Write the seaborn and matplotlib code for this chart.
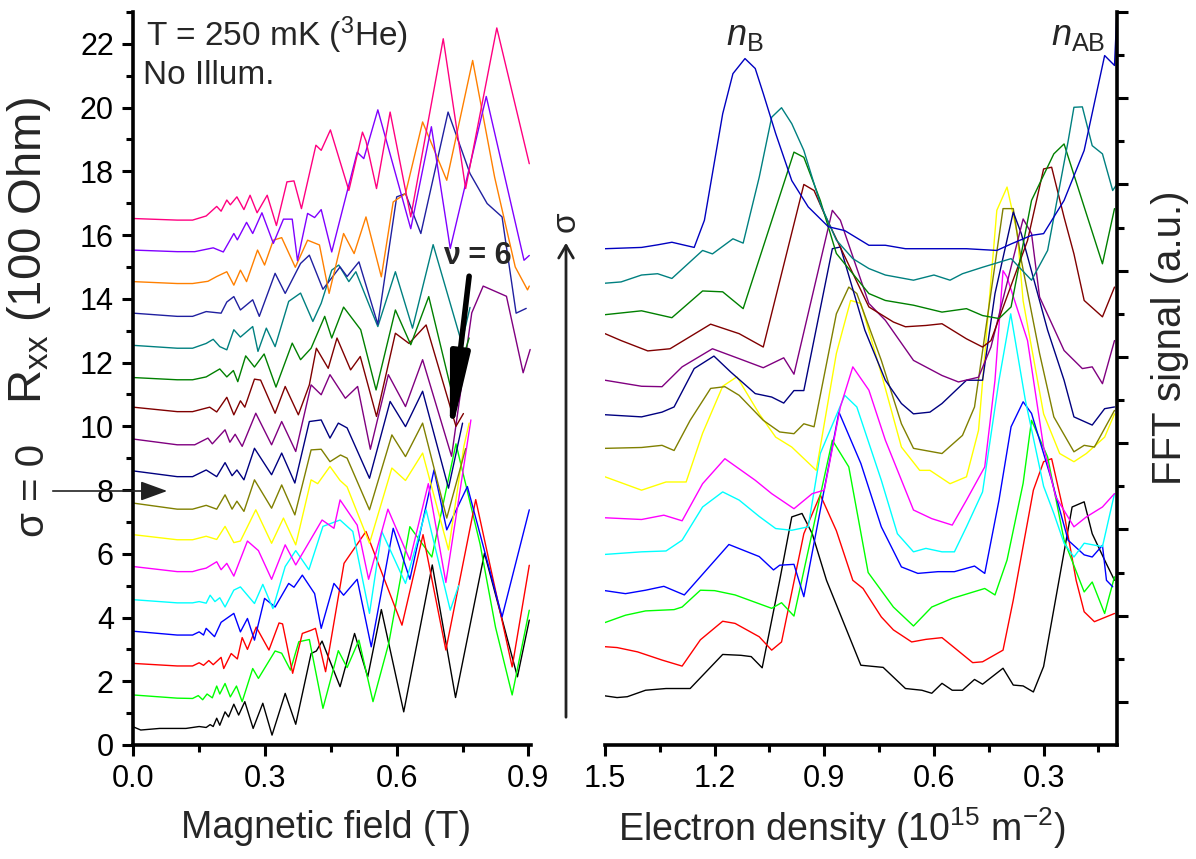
import matplotlib
matplotlib.use("Agg")
import matplotlib.pyplot as plt
import pandas as pd
import seaborn as sns
from matplotlib.ticker import MultipleLocator, FixedLocator, FormatStrFormatter, NullFormatter

# ---------------- data: left panel, Rxx (100 Ohm) vs B (T) ----------------
L_black = [(0.0,0.57),(0.017,0.47),(0.06,0.52),(0.12,0.52),(0.15,0.58),(0.166,0.55),(0.175,0.64),(0.182,0.58),(0.19,0.84),(0.197,0.62),(0.209,1.04),(0.217,0.88),(0.229,1.28),(0.24,0.94),(0.254,1.36),(0.273,0.52),(0.295,1.31),(0.316,0.31),(0.346,1.62),(0.37,0.65),(0.405,2.87),(0.417,2.95),(0.43,3.26),(0.471,1.83),(0.504,3.5),(0.534,2.14),(0.565,4.25),(0.616,1.04),(0.681,5.65),(0.734,1.49),(0.8,6.02),(0.875,2.14),(0.902,3.92)]
L_lime = [(0.0,1.57),(0.1,1.47),(0.135,1.46),(0.148,1.55),(0.158,1.42),(0.168,1.6),(0.18,1.48),(0.19,1.85),(0.197,1.6),(0.209,1.93),(0.221,1.51),(0.235,1.85),(0.248,1.36),(0.272,2.4),(0.285,2.09),(0.323,2.95),(0.338,2.88),(0.358,2.35),(0.377,3.24),(0.401,3.31),(0.432,1.15),(0.467,2.96),(0.487,2.43),(0.514,3.29),(0.546,1.36),(0.582,3.2),(0.63,6.85),(0.68,5.9),(0.735,9.45),(0.79,6.3),(0.825,3.7),(0.863,1.57),(0.902,4.23)]
L_red = [(0.0,2.56),(0.1,2.48),(0.135,2.48),(0.15,2.58),(0.16,2.5),(0.172,2.65),(0.182,2.52),(0.2,2.75),(0.206,2.4),(0.223,2.87),(0.237,2.7),(0.248,3.37),(0.26,3.0),(0.28,3.7),(0.309,2.98),(0.332,3.83),(0.34,3.8),(0.363,2.25),(0.385,3.5),(0.405,3.6),(0.415,3.66),(0.438,2.3),(0.48,5.7),(0.505,6.2),(0.53,6.7),(0.612,3.76),(0.66,6.6),(0.712,2.98),(0.78,7.7),(0.863,2.45),(0.902,5.64)]
L_blue = [(0.0,3.57),(0.1,3.45),(0.135,3.45),(0.15,3.55),(0.16,3.45),(0.166,3.66),(0.185,3.4),(0.2,3.85),(0.229,4.13),(0.244,3.55),(0.26,3.97),(0.276,3.29),(0.299,4.6),(0.323,4.33),(0.354,5.07),(0.366,4.95),(0.385,5.33),(0.413,4.75),(0.428,3.66),(0.457,5.07),(0.479,4.7),(0.51,5.2),(0.542,3.08),(0.592,6.8),(0.63,5.2),(0.685,8.63),(0.714,6.75),(0.761,8.11),(0.84,4.02),(0.902,7.38)]
L_cyan = [(0.0,4.56),(0.1,4.46),(0.135,4.46),(0.15,4.5),(0.166,4.45),(0.175,4.7),(0.186,4.5),(0.197,4.62),(0.209,4.33),(0.229,4.86),(0.244,4.96),(0.276,4.44),(0.295,5.04),(0.318,4.28),(0.346,5.6),(0.37,6.1),(0.4,5.5),(0.432,6.86),(0.471,7.06),(0.5,6.7),(0.538,4.13),(0.566,6.7),(0.62,5.07),(0.667,7.38),(0.722,4.23),(0.741,5.0)]
L_magenta = [(0.0,5.6),(0.1,5.44),(0.135,5.44),(0.15,5.5),(0.166,5.55),(0.19,5.75),(0.2,5.5),(0.213,5.7),(0.229,5.3),(0.26,6.4),(0.285,6.1),(0.315,5.2),(0.346,6.28),(0.37,5.65),(0.43,7.06),(0.457,6.8),(0.471,7.69),(0.51,6.9),(0.536,5.2),(0.58,7.4),(0.63,5.8),(0.672,8.2),(0.712,5.1),(0.769,10.2)]
L_yellow = [(0.0,6.6),(0.1,6.44),(0.135,6.44),(0.166,6.55),(0.19,6.45),(0.209,6.86),(0.229,6.35),(0.244,6.4),(0.279,7.38),(0.315,6.33),(0.342,7.12),(0.37,6.28),(0.405,8.32),(0.42,8.2),(0.448,8.74),(0.471,8.3),(0.487,8.1),(0.538,6.33),(0.589,8.69),(0.62,8.3),(0.659,9.16),(0.718,6.12),(0.753,9.37),(0.765,10.1)]
L_olive = [(0.0,7.59),(0.1,7.4),(0.135,7.4),(0.166,7.52),(0.19,7.4),(0.209,7.85),(0.225,7.4),(0.236,7.65),(0.252,7.33),(0.276,8.32),(0.315,7.43),(0.338,8.16),(0.368,7.22),(0.405,9.26),(0.428,9.28),(0.448,8.89),(0.472,9.1),(0.487,9.0),(0.538,7.38),(0.589,9.73),(0.62,9.05),(0.659,10.1),(0.714,7.12),(0.757,9.3)]
L_navy = [(0.0,8.6),(0.1,8.42),(0.135,8.42),(0.166,8.63),(0.19,8.42),(0.209,8.86),(0.225,8.45),(0.236,8.63),(0.252,8.32),(0.276,9.31),(0.315,8.48),(0.338,9.16),(0.368,8.22),(0.401,10.15),(0.428,10.2),(0.448,9.63),(0.467,10.1),(0.487,9.95),(0.538,8.37),(0.585,10.78),(0.62,9.99),(0.659,11.1),(0.718,8.06),(0.75,10.1)]
L_purple = [(0.0,9.6),(0.1,9.42),(0.14,9.42),(0.17,9.63),(0.18,9.45),(0.209,9.89),(0.22,9.5),(0.232,9.75),(0.248,9.37),(0.279,10.41),(0.315,9.42),(0.338,10.15),(0.37,9.21),(0.405,11.3),(0.428,10.99),(0.448,11.62),(0.483,10.88),(0.511,11.25),(0.54,9.28),(0.581,11.62),(0.62,10.62),(0.659,12.09),(0.725,9.06),(0.771,13.56),(0.797,14.4),(0.85,14.08),(0.888,11.68),(0.904,12.41)]
L_wine = [(0.0,10.6),(0.1,10.46),(0.135,10.46),(0.174,10.6),(0.19,10.45),(0.213,10.91),(0.229,10.36),(0.244,10.8),(0.254,10.6),(0.276,11.48),(0.29,11.45),(0.323,10.41),(0.346,11.25),(0.376,10.36),(0.401,11.3),(0.417,12.45),(0.444,11.82),(0.464,12.77),(0.495,11.77),(0.517,12.19),(0.554,10.31),(0.597,12.92),(0.628,12.6),(0.667,13.18),(0.735,10.0),(0.752,10.4)]
L_dkgreen = [(0.0,11.53),(0.1,11.46),(0.135,11.46),(0.166,11.55),(0.197,11.8),(0.213,11.55),(0.228,11.75),(0.238,11.4),(0.256,12.21),(0.276,11.86),(0.298,12.27),(0.325,11.23),(0.362,12.61),(0.381,12.09),(0.405,12.45),(0.436,13.45),(0.452,12.77),(0.479,13.74),(0.518,13.03),(0.553,11.14),(0.597,13.65),(0.632,12.56),(0.673,14.07),(0.726,11.04),(0.765,12.77)]
L_teal = [(0.0,12.54),(0.1,12.45),(0.135,12.45),(0.166,12.6),(0.182,12.73),(0.197,12.5),(0.213,12.4),(0.229,13.03),(0.244,12.8),(0.272,13.13),(0.284,12.35),(0.303,13.08),(0.323,12.5),(0.354,13.92),(0.381,14.18),(0.409,13.29),(0.428,13.86),(0.452,14.9),(0.468,15.06),(0.491,14.54),(0.507,14.85),(0.557,13.13),(0.597,14.85),(0.636,13.08),(0.683,15.7),(0.748,12.62),(0.767,13.73)]
L_royal = [(0.0,13.55),(0.1,13.45),(0.135,13.45),(0.166,13.6),(0.2,13.55),(0.213,13.9),(0.229,14.07),(0.244,13.65),(0.272,13.97),(0.287,13.45),(0.323,14.8),(0.346,14.17),(0.381,15.11),(0.401,15.37),(0.432,14.3),(0.471,15.0),(0.487,14.7),(0.514,15.16),(0.557,13.2),(0.6,17.2),(0.62,17.3),(0.655,16.05),(0.717,19.86),(0.767,17.93),(0.806,16.99),(0.84,16.57),(0.872,13.55),(0.895,13.7)]
L_orange = [(0.0,14.54),(0.1,14.48),(0.135,14.48),(0.17,14.55),(0.19,14.7),(0.213,14.85),(0.229,14.43),(0.244,14.9),(0.258,14.54),(0.283,15.53),(0.299,15.06),(0.319,15.84),(0.338,15.92),(0.369,14.99),(0.397,15.84),(0.424,15.69),(0.446,14.17),(0.479,16.05),(0.503,15.42),(0.53,16.57),(0.565,14.69),(0.592,17.04),(0.62,17.3),(0.659,19.55),(0.714,17.72),(0.773,21.48),(0.823,17.82),(0.87,15.0),(0.898,14.28),(0.902,14.4)]
L_violet = [(0.0,15.53),(0.1,15.48),(0.14,15.48),(0.182,15.6),(0.205,15.47),(0.229,16.05),(0.237,15.85),(0.258,16.4),(0.272,16.05),(0.293,16.7),(0.319,15.74),(0.342,16.5),(0.362,16.5),(0.374,15.2),(0.397,16.68),(0.413,16.55),(0.428,16.8),(0.452,15.47),(0.51,18.6),(0.525,18.4),(0.557,19.93),(0.632,16.2),(0.679,19.4),(0.722,15.58),(0.804,20.35),(0.89,15.21),(0.902,15.36)]
L_pink = [(0.0,16.52),(0.1,16.47),(0.135,16.47),(0.166,16.6),(0.19,16.9),(0.2,16.75),(0.213,17.1),(0.221,16.95),(0.236,17.2),(0.252,16.8),(0.266,17.25),(0.282,16.7),(0.305,17.25),(0.326,16.3),(0.35,17.67),(0.366,17.7),(0.383,16.83),(0.416,18.82),(0.428,18.66),(0.449,19.3),(0.491,17.4),(0.522,19.23),(0.53,18.95),(0.554,17.46),(0.585,19.86),(0.632,16.57),(0.706,22.16),(0.757,17.46),(0.828,22.5),(0.902,18.24)]

# ---------------- data: right panel, FFT signal vs electron density ----------------
R_black = [(1.5,1.14),(1.467,1.1),(1.439,1.12),(1.389,1.27),(1.333,1.31),(1.267,1.31),(1.178,2.1),(1.128,2.08),(1.1,2.05),(1.07,1.79),(1.022,3.82),(0.989,5.29),(0.961,5.37),(0.933,4.9),(0.894,3.82),(0.8,1.85),(0.739,1.8),(0.678,1.31),(0.633,1.27),(0.606,1.2),(0.578,1.43),(0.55,1.27),(0.522,1.27),(0.489,1.52),(0.467,1.41),(0.411,1.78),(0.383,1.39),(0.356,1.37),(0.328,1.23),(0.3,1.82),(0.222,5.52),(0.189,5.64),(0.167,4.9),(0.128,4.2),(0.106,3.82)]
R_red = [(1.5,2.28),(1.467,2.26),(1.411,2.16),(1.344,1.97),(1.289,1.83),(1.239,2.44),(1.178,2.87),(1.144,2.82),(1.078,2.51),(1.044,2.2),(1.017,2.39),(0.956,4.9),(0.911,5.8),(0.867,4.97),(0.822,3.82),(0.794,3.63),(0.744,2.97),(0.711,2.67),(0.661,2.39),(0.622,2.45),(0.578,2.49),(0.494,1.91),(0.467,1.93),(0.411,2.2),(0.383,3.36),(0.328,5.91),(0.3,6.57),(0.278,6.64),(0.244,5.37),(0.211,3.82),(0.189,3.09),(0.161,2.86),(0.106,3.05)]
R_lime = [(1.5,2.84),(1.444,3.01),(1.389,3.11),(1.311,3.14),(1.289,3.2),(1.239,3.59),(1.2,3.58),(1.144,3.48),(1.044,3.17),(1.017,3.3),(0.983,2.99),(0.878,7.07),(0.833,6.45),(0.78,4.0),(0.711,3.2),(0.656,2.76),(0.606,3.2),(0.55,3.4),(0.461,3.63),(0.433,3.48),(0.4,4.29),(0.356,6.07),(0.333,7.53),(0.289,6.68),(0.244,4.75),(0.189,3.55),(0.167,3.78),(0.133,3.05),(0.106,3.9)]
R_blue = [(1.5,3.58),(1.444,3.51),(1.389,3.59),(1.339,3.68),(1.283,3.48),(1.161,4.65),(1.078,4.37),(1.039,4.06),(1.022,4.17),(0.983,4.19),(0.956,3.44),(0.86,7.72),(0.8,6.53),(0.744,5.06),(0.689,4.13),(0.644,3.98),(0.589,4.02),(0.544,4.02),(0.489,4.15),(0.461,3.98),(0.422,5.68),(0.389,7.38),(0.356,7.96),(0.333,7.69),(0.278,6.14),(0.233,4.75),(0.189,4.41),(0.167,4.36),(0.139,4.63),(0.128,3.82),(0.111,3.67)]
R_cyan = [(1.5,4.42),(1.4,4.48),(1.333,4.5),(1.289,4.75),(1.233,5.52),(1.178,5.87),(1.133,5.68),(1.078,5.3),(1.033,5.02),(0.989,4.98),(0.944,5.06),(0.911,6.76),(0.844,8.11),(0.811,7.84),(0.744,6.14),(0.7,4.9),(0.656,4.48),(0.622,4.56),(0.578,4.48),(0.544,4.48),(0.511,5.06),(0.467,5.87),(0.422,8.46),(0.39,10.0),(0.35,8.0),(0.3,6.0),(0.272,5.37),(0.244,4.68),(0.217,4.36),(0.189,4.68),(0.139,4.6),(0.106,5.83)]
R_magenta = [(1.5,5.27),(1.4,5.23),(1.339,5.33),(1.289,5.2),(1.233,6.06),(1.172,6.64),(1.089,6.14),(1.044,5.83),(0.983,5.48),(0.933,5.83),(0.9,5.91),(0.856,7.84),(0.822,8.77),(0.778,8.23),(0.733,7.07),(0.656,5.45),(0.606,5.25),(0.55,5.1),(0.511,5.68),(0.461,6.45),(0.433,8.46),(0.411,11.0),(0.4,10.85),(0.344,9.38),(0.3,6.91),(0.267,5.76),(0.217,5.06),(0.183,5.29),(0.139,5.52),(0.106,5.83)]
R_yellow = [(1.5,6.22),(1.4,5.91),(1.333,6.1),(1.278,6.1),(1.233,7.23),(1.178,8.32),(1.139,8.54),(1.078,7.68),(1.033,7.14),(0.989,6.91),(0.922,6.37),(0.867,9.08),(0.828,10.31),(0.8,10.24),(0.744,8.61),(0.689,6.91),(0.639,6.37),(0.611,6.37),(0.556,6.06),(0.511,6.22),(0.478,7.3),(0.444,10.78),(0.428,12.4),(0.4,12.94),(0.372,11.86),(0.356,10.3),(0.3,7.68),(0.256,6.76),(0.217,6.57),(0.183,6.76),(0.133,7.14),(0.106,7.68)]
R_olive = [(1.5,6.88),(1.4,6.9),(1.344,6.95),(1.311,6.83),(1.267,7.53),(1.211,8.27),(1.172,8.31),(1.133,8.11),(1.067,7.53),(1.022,7.26),(0.983,7.22),(0.956,7.45),(0.928,7.38),(0.867,10.0),(0.833,10.62),(0.811,10.47),(0.744,8.92),(0.689,7.45),(0.656,6.88),(0.578,6.76),(0.522,7.18),(0.489,7.84),(0.411,12.44),(0.383,12.44),(0.361,11.24),(0.311,9.08),(0.272,7.61),(0.217,6.8),(0.189,6.95),(0.161,6.91),(0.106,7.76)]
R_navy = [(1.5,7.66),(1.4,7.61),(1.344,7.72),(1.311,7.84),(1.256,8.73),(1.202,9.02),(1.156,8.65),(1.089,8.15),(1.044,8.07),(1.011,7.93),(0.983,8.22),(0.956,8.22),(0.878,11.51),(0.856,11.55),(0.789,9.62),(0.733,8.46),(0.689,7.92),(0.656,7.68),(0.611,7.72),(0.578,7.92),(0.511,8.46),(0.467,8.46),(0.433,10.47),(0.383,12.36),(0.361,11.86),(0.289,9.62),(0.244,8.46),(0.217,7.61),(0.167,7.42),(0.133,7.8),(0.106,7.84)]
R_purple = [(1.5,8.46),(1.4,8.32),(1.344,8.31),(1.289,8.77),(1.206,9.19),(1.133,8.96),(1.067,8.75),(1.011,8.98),(0.983,8.6),(0.878,12.4),(0.856,12.17),(0.778,10.24),(0.733,9.85),(0.656,8.92),(0.578,8.57),(0.533,8.42),(0.478,8.53),(0.444,9.23),(0.356,12.2),(0.333,11.86),(0.311,10.39),(0.244,9.15),(0.194,8.73),(0.167,8.77),(0.139,8.38),(0.106,9.38)]
R_wine = [(1.5,9.54),(1.456,9.38),(1.383,9.14),(1.322,9.19),(1.211,9.76),(1.133,9.54),(1.067,9.23),(0.956,13.0),(0.928,12.86),(0.9,12.32),(0.778,10.16),(0.711,9.81),(0.678,9.7),(0.622,9.73),(0.578,9.77),(0.511,9.42),(0.467,9.23),(0.444,9.38),(0.344,11.7),(0.3,13.36),(0.278,13.4),(0.244,12.24),(0.217,11.39),(0.189,10.31),(0.139,9.93),(0.106,10.62)]
R_dkgreen = [(1.5,9.98),(1.4,10.07),(1.317,9.91),(1.233,10.53),(1.178,10.51),(1.122,10.12),(0.983,13.75),(0.956,13.63),(0.911,12.63),(0.867,11.4),(0.778,10.47),(0.733,10.31),(0.656,10.2),(0.578,10.04),(0.511,10.12),(0.467,9.96),(0.422,9.89),(0.389,10.16),(0.333,12.63),(0.272,13.71),(0.244,13.94),(0.189,12.48),(0.139,11.16),(0.106,12.44)]
R_teal = [(1.5,10.71),(1.456,10.74),(1.4,10.9),(1.356,10.93),(1.317,10.82),(1.233,11.47),(1.206,11.39),(1.15,11.74),(1.122,11.64),(1.078,13.17),(1.044,14.56),(1.017,14.78),(0.989,14.41),(0.956,13.79),(0.911,12.55),(0.867,11.71),(0.822,11.28),(0.778,11.05),(0.733,10.9),(0.656,10.78),(0.6,10.9),(0.556,10.78),(0.522,10.93),(0.467,11.08),(0.389,11.28),(0.333,10.78),(0.289,11.47),(0.233,14.0),(0.217,14.79),(0.194,14.8),(0.167,13.9),(0.139,13.71),(0.111,12.86),(0.1,13.0)]
R_top = [(1.5,11.51),(1.4,11.54),(1.356,11.6),(1.317,11.66),(1.256,11.54),(1.228,12.17),(1.178,14.64),(1.15,15.57),(1.117,15.92),(1.089,15.69),(1.067,15.11),(1.033,14.18),(0.989,13.09),(0.944,12.48),(0.889,12.02),(0.844,11.93),(0.778,11.59),(0.733,11.59),(0.678,11.51),(0.622,11.51),(0.567,11.51),(0.511,11.51),(0.428,11.47),(0.389,11.62),(0.333,11.82),(0.3,11.86),(0.244,12.63),(0.189,13.79),(0.133,15.99),(0.106,15.76),(0.1,16.9)]

left_traces = [(L_black, "#000000"), (L_lime, "#00FF00"), (L_red, "#FF0000"), (L_blue, "#0000FF"),
               (L_cyan, "#00FFFF"), (L_magenta, "#FF00FF"), (L_yellow, "#FFFF00"), (L_olive, "#808000"),
               (L_navy, "#000080"), (L_purple, "#800080"), (L_wine, "#800000"), (L_dkgreen, "#008000"),
               (L_teal, "#008080"), (L_royal, "#2020A0"), (L_orange, "#FF8000"), (L_violet, "#8000FF"),
               (L_pink, "#FF0080")]
right_traces = [(R_black, "#000000"), (R_red, "#FF0000"), (R_lime, "#00FF00"), (R_blue, "#0000FF"),
                (R_cyan, "#00FFFF"), (R_magenta, "#FF00FF"), (R_yellow, "#FFFF00"), (R_olive, "#808000"),
                (R_navy, "#000080"), (R_purple, "#800080"), (R_wine, "#800000"), (R_dkgreen, "#008000"),
                (R_teal, "#008080"), (R_top, "#0000C0")]

# ---------------- style ----------------
sns.set_theme(style="ticks")
plt.rcParams["font.family"] = ["Liberation Sans", "DejaVu Sans"]
plt.rcParams["mathtext.fontset"] = "custom"
plt.rcParams["mathtext.rm"] = "Liberation Sans"
plt.rcParams["mathtext.it"] = "Liberation Sans:italic"
plt.rcParams["mathtext.bf"] = "Liberation Sans:bold"
plt.rcParams["mathtext.default"] = "regular"

W, H = 1196, 859
fig = plt.figure(figsize=(W / 100, H / 100), dpi=100)
fig.patch.set_facecolor("white")

def px_axes(x0, x1, ytop, ybot):
    return fig.add_axes([x0 / W, 1 - ybot / H, (x1 - x0) / W, (ybot - ytop) / H])

axL = px_axes(133.3, 530.6, 12, 745)
axR = px_axes(605, 1116.7, 12, 745)

for tr, col in left_traces:
    df = pd.DataFrame(tr, columns=["B", "R"])
    sns.lineplot(data=df, x="B", y="R", ax=axL, color=col, lw=1.0, sort=False, estimator=None,
                 solid_joinstyle="round")
for tr, col in right_traces:
    df = pd.DataFrame(tr, columns=["n", "S"])
    sns.lineplot(data=df, x="n", y="S", ax=axR, color=col, lw=1.0, sort=False, estimator=None)

SP = 2.6
# left axes
axL.set_xlim(0, 0.905)
axL.set_ylim(0, 23)
axL.xaxis.set_major_locator(MultipleLocator(0.3))
axL.xaxis.set_minor_locator(MultipleLocator(0.15))
axL.yaxis.set_major_locator(MultipleLocator(2))
axL.yaxis.set_minor_locator(MultipleLocator(1))
axL.xaxis.set_major_formatter(FormatStrFormatter("%.1f"))
for s in ["top", "right"]:
    axL.spines[s].set_visible(False)
for s in ["left", "bottom"]:
    axL.spines[s].set_linewidth(SP)
    axL.spines[s].set_color("black")
axL.tick_params(which="major", direction="out", length=8, width=2.2, labelsize=22, colors="black", pad=6)
axL.tick_params(which="minor", direction="out", length=5, width=2.2, colors="black")
axL.set_xlabel("Magnetic field (T)", fontsize=27)
axL.set_ylabel(r"R$_{xx}$ (100 Ohm)", fontsize=34)
axL.xaxis.set_label_coords(0.484, -0.113)
axL.xaxis.label.set_va("center")
axL.yaxis.set_label_coords(-0.262, 0.675)
axL.yaxis.label.set_va("center")

axL.text(0.032, 0.968, r"T = 250 mK ($^3$He)", transform=axL.transAxes, fontsize=24, ha="left", va="center")
axL.text(0.025, 0.914, "No Illum.", transform=axL.transAxes, fontsize=24, ha="left", va="center")
axL.text(0.784, 15.33, "ν = 6", fontsize=22, fontweight="bold", ha="center", va="center")
axL.annotate("", xy=(0.721, 9.58), xytext=(0.765, 14.71),
             arrowprops=dict(arrowstyle="-|>,head_length=2.4,head_width=0.28", lw=4, color="black",
                             mutation_scale=20, shrinkA=0, shrinkB=0))

# right axes
axR.set_xlim(1.5, 0.1)
axR.set_ylim(0, 17)
axR.xaxis.set_major_locator(MultipleLocator(0.3))
axR.xaxis.set_minor_locator(MultipleLocator(0.15))
axR.xaxis.set_major_formatter(FormatStrFormatter("%.1f"))
axR.yaxis.tick_right()
axR.yaxis.set_label_position("right")
axR.yaxis.set_major_locator(FixedLocator(list(range(1, 18, 2))))
axR.yaxis.set_minor_locator(FixedLocator(list(range(2, 17, 2))))
axR.yaxis.set_major_formatter(NullFormatter())
for s in ["top", "left"]:
    axR.spines[s].set_visible(False)
for s in ["right", "bottom"]:
    axR.spines[s].set_linewidth(SP)
    axR.spines[s].set_color("black")
axR.tick_params(which="major", direction="out", length=8, width=2.2, labelsize=22, colors="black", pad=6)
axR.tick_params(which="minor", direction="out", length=5, width=2.2, colors="black")
axR.tick_params(axis="y", which="both", left=False, right=True, labelleft=False, labelright=False)
axR.set_xlabel(r"Electron density (10$^{15}$ m$^{-2}$)", fontsize=27)
axR.set_ylabel("FFT signal (a.u.)", fontsize=29, rotation=90)
axR.xaxis.set_label_coords(0.463, -0.113)
axR.xaxis.label.set_va("center")
axR.yaxis.set_label_coords(1.104, 0.556)
axR.yaxis.label.set_va("center")

axR.text(1.117, 16.45, r"$\mathit{n}_{B}$", fontsize=26, ha="center", va="center")
axR.text(0.206, 16.45, r"$\mathit{n}_{AB}$", fontsize=26, ha="center", va="center")

# figure-level annotations (sigma arrows)
fig.text(33 / W, 1 - 490 / H, "σ = 0", rotation=90, fontsize=29, ha="center", va="center")
fig.add_artist(matplotlib.patches.FancyArrowPatch((50 / W, 1 - 491 / H), (170 / W, 1 - 491 / H),
               transform=fig.transFigure, arrowstyle="-|>,head_length=1.1,head_width=0.4",
               mutation_scale=15, lw=1.2, color="#222222"))
fig.add_artist(matplotlib.patches.FancyArrowPatch((566 / W, 1 - 720 / H), (566 / W, 1 - 240 / H),
               transform=fig.transFigure, arrowstyle="->,head_length=0.6,head_width=0.35",
               mutation_scale=15, lw=2.0, color="#222222"))
fig.text(566 / W, 1 - 222 / H, "σ", rotation=90, fontsize=24, ha="center", va="center")

fig.savefig("out.png", dpi=100, facecolor="white")
